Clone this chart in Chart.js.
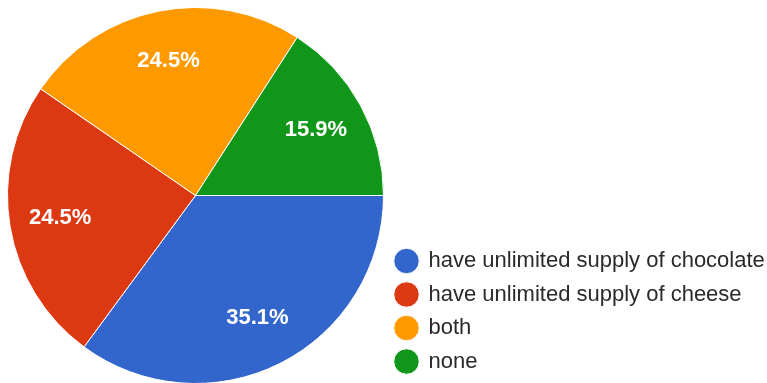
<!DOCTYPE html>
<html>
<head>
<meta charset="utf-8">
<script src="https://cdn.jsdelivr.net/npm/chart.js@4.4.1/dist/chart.umd.min.js"></script>
<style>
  html, body { margin: 0; padding: 0; background: #ffffff; overflow: hidden; }
  #wrap { position: relative; width: 767px; height: 384px; }
</style>
</head>
<body>
<div id="wrap"><canvas id="pie"></canvas></div>
<script>
// Survey answers, share of respondents (%)
const categories = [
  'have unlimited supply of chocolate',
  'have unlimited supply of cheese',
  'both',
  'none'
];
const shares = [35.1, 24.5, 24.5, 15.9];
const sliceColors = ['#3366cc', '#dc3912', '#ff9900', '#109618'];

// Percentage labels drawn inside each slice
const sliceLabels = {
  id: 'sliceLabels',
  afterDatasetsDraw(chart) {
    const { ctx } = chart;
    const meta = chart.getDatasetMeta(0);
    const values = chart.data.datasets[0].data;
    ctx.save();
    ctx.font = 'bold 22px "Liberation Sans", Arial, sans-serif';
    ctx.fillStyle = '#ffffff';
    ctx.textAlign = 'center';
    ctx.textBaseline = 'middle';
    meta.data.forEach((arc, i) => {
      const p = arc.getProps(['x', 'y', 'startAngle', 'endAngle', 'outerRadius'], true);
      const mid = (p.startAngle + p.endAngle) / 2;
      const r = p.outerRadius * 0.73;
      ctx.fillText(values[i].toFixed(1) + '%', p.x + Math.cos(mid) * r, p.y + Math.sin(mid) * r);
    });
    ctx.restore();
  }
};

new Chart(document.getElementById('pie'), {
  type: 'pie',
  data: {
    labels: categories,
    datasets: [{
      data: shares,
      backgroundColor: sliceColors,
      borderColor: '#ffffff',
      borderWidth: 1
    }]
  },
  options: {
    responsive: true,
    maintainAspectRatio: false,
    animation: false,
    rotation: 90,
    layout: { padding: { top: 7, left: 7, right: 0, bottom: 0 } },
    plugins: {
      tooltip: { enabled: false },
      legend: {
        position: 'right',
        align: 'end',
        maxWidth: 383,
        labels: {
          usePointStyle: true,
          pointStyle: 'circle',
          boxHeight: 18,
          padding: 11.5,
          color: '#2a2a2a',
          font: { family: '"Liberation Sans", Arial, sans-serif', size: 22 }
        }
      }
    }
  },
  plugins: [sliceLabels]
});
</script>
</body>
</html>
